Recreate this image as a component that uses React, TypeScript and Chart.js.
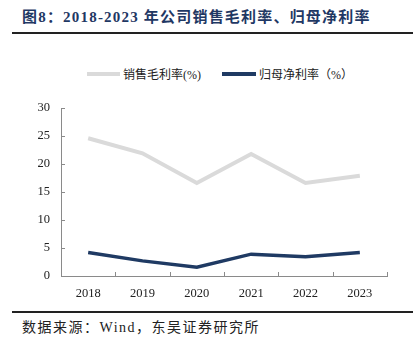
import React, { useEffect, useRef } from "react";
import { Chart, registerables } from "chart.js";

Chart.register(...registerables);

const categories = ["2018", "2019", "2020", "2021", "2022", "2023"];
const grossMargin = [24.6, 21.9, 16.6, 21.8, 16.6, 17.9];
const netMargin = [4.2, 2.7, 1.55, 3.9, 3.45, 4.2];
const seriesNames = ["销售毛利率(%)", "归母净利率（%）"];
const seriesColors = ["#DADADA", "#1F3A63"];
const yMin = 0;
const yMax = 30;
const yStep = 5;

const innerTicks = {
  id: "innerTicks",
  afterDraw(chart: any) {
    const ctx = chart.ctx;
    const x = chart.scales.x;
    const y = chart.scales.y;
    const area = chart.chartArea;
    ctx.save();
    ctx.strokeStyle = "#8a8a8a";
    ctx.lineWidth = 1;
    ctx.beginPath();
    y.ticks.forEach((_: any, i: number) => {
      const py = Math.round(y.getPixelForTick(i)) + 0.5;
      ctx.moveTo(area.left, py);
      ctx.lineTo(area.left + 4, py);
    });
    for (let i = 1; i <= categories.length; i++) {
      const px = Math.round(x.getPixelForValue(i - 0.5)) + 0.5;
      ctx.moveTo(px, area.bottom);
      ctx.lineTo(px, area.bottom - 4);
    }
    ctx.stroke();
    ctx.restore();
  },
};

export default function App() {
  const ref = useRef<HTMLCanvasElement>(null);
  useEffect(() => {
    document.body.style.margin = "0";
    const chart = new Chart(ref.current!, {
      type: "line",
      data: {
        labels: categories,
        datasets: [
          {
            label: seriesNames[0],
            data: grossMargin,
            borderColor: seriesColors[0],
            backgroundColor: seriesColors[0],
            borderWidth: 4,
            pointRadius: 0,
            tension: 0,
          },
          {
            label: seriesNames[1],
            data: netMargin,
            borderColor: seriesColors[1],
            backgroundColor: seriesColors[1],
            borderWidth: 3.5,
            pointRadius: 0,
            tension: 0,
          },
        ],
      },
      options: {
        animation: false,
        responsive: false,
        devicePixelRatio: 1,
        layout: { padding: { top: 68, right: 28, left: 0, bottom: 0 } },
        plugins: { legend: { display: false }, tooltip: { enabled: false } },
        scales: {
          x: {
            offset: true,
            grid: { display: true, drawOnChartArea: false, drawTicks: false, offset: true },
            border: { display: true, color: "#8a8a8a", width: 1 },
            ticks: {
              padding: 10,
              color: "#222",
              font: { family: "'Liberation Serif', 'Times New Roman', serif", size: 12.5 },
              maxRotation: 0,
            },
            afterFit: (s: any) => {
              s.height = 24;
            },
          },
          y: {
            min: yMin,
            max: yMax,
            grid: { display: true, drawOnChartArea: false, drawTicks: false },
            border: { display: true, color: "#8a8a8a", width: 1 },
            ticks: {
              stepSize: yStep,
              padding: 11,
              color: "#222",
              font: { family: "'Liberation Serif', 'Times New Roman', serif", size: 12.5 },
            },
            afterFit: (s: any) => {
              s.width = 61;
            },
          },
        },
      },
      plugins: [innerTicks],
    });
    return () => chart.destroy();
  }, []);

  const cjk = "'Liberation Serif', 'Noto Sans CJK SC', serif";
  return (
    <div style={{ position: "relative", width: 415, height: 352, background: "#fff", overflow: "hidden" }}>
      <div
        style={{
          position: "absolute",
          left: 22,
          top: 6,
          fontFamily: cjk,
          fontWeight: "bold",
          fontSize: 15,
          letterSpacing: 1.2,
          color: "#1F3864",
          whiteSpace: "nowrap",
          lineHeight: "22px",
        }}
      >
        图8：2018-2023 年公司销售毛利率、归母净利率
      </div>
      <div style={{ position: "absolute", left: 12, top: 32, width: 401, height: 2, background: "#222" }} />
      <div style={{ position: "absolute", left: 87, top: 66, height: 16, display: "flex", alignItems: "center", fontFamily: cjk, fontSize: 12, color: "#222", whiteSpace: "nowrap" }}>
        <span style={{ display: "inline-block", width: 33, height: 4, background: seriesColors[0], marginRight: 3 }} />
        <span>{seriesNames[0]}</span>
        <span style={{ display: "inline-block", width: 34, height: 4, background: seriesColors[1], marginLeft: 21, marginRight: 3 }} />
        <span>{seriesNames[1]}</span>
      </div>
      <canvas ref={ref} width={415} height={260} style={{ position: "absolute", left: 0, top: 40, width: 415, height: 260 }} />
      <div style={{ position: "absolute", left: 12, top: 311, width: 401, height: 2, background: "#222" }} />
      <div
        style={{
          position: "absolute",
          left: 22,
          top: 318,
          fontFamily: cjk,
          fontSize: 14,
          letterSpacing: 1.5,
          color: "#222",
          whiteSpace: "nowrap",
          lineHeight: "20px",
        }}
      >
        数据来源：Wind，东吴证券研究所
      </div>
    </div>
  );
}
